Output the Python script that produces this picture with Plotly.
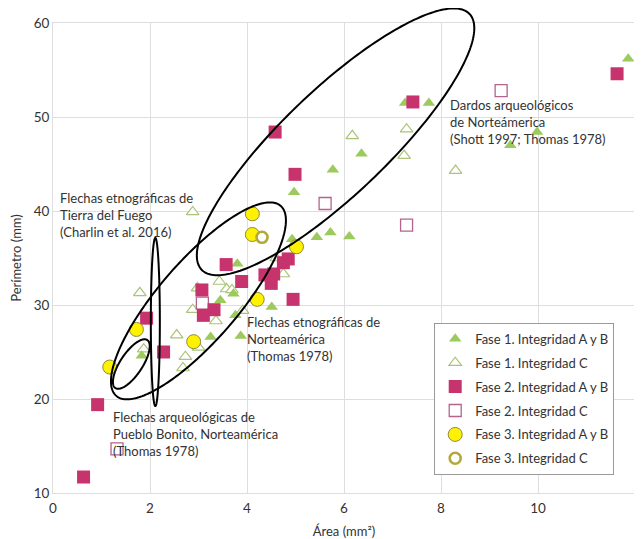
import numpy as np
import plotly.graph_objects as go

# ---------------- data ----------------
f1ab_x = [11.86, 7.26, 7.75, 6.36, 5.77, 5.44, 5.72, 6.11, 9.43, 9.98, 4.97, 4.93, 3.80, 3.45, 3.72, 3.76, 4.51, 3.25, 3.87, 1.83]
f1ab_y = [56.2, 51.5, 51.5, 46.1, 44.4, 37.2, 37.7, 37.3, 47.0, 48.4, 42.0, 37.0, 34.4, 30.5, 31.2, 28.9, 29.8, 26.6, 26.7, 24.6]

f1c_x = [2.88, 6.17, 7.29, 7.24, 8.30, 1.79, 1.87, 2.55, 2.73, 2.68, 2.88, 3.00, 3.36, 3.43, 3.58, 3.69, 3.91, 2.98, 4.60, 4.75]
f1c_y = [39.9, 48.0, 48.7, 45.9, 44.3, 31.3, 25.3, 26.8, 24.5, 23.3, 29.5, 25.5, 28.3, 32.5, 31.7, 31.6, 29.4, 31.8, 35.0, 33.3]

f2ab_x = [11.63, 7.42, 4.58, 4.99, 3.57, 3.89, 3.07, 3.10, 3.32, 4.37, 4.55, 4.50, 4.75, 4.85, 4.95, 1.93, 2.28, 0.92, 0.63]
f2ab_y = [54.6, 51.6, 48.4, 43.9, 34.3, 32.5, 31.6, 28.9, 29.5, 33.2, 33.3, 32.3, 34.5, 34.9, 30.6, 28.6, 25.0, 19.4, 11.7]

f2c_x = [9.24, 5.61, 7.29, 3.08, 1.32]
f2c_y = [52.8, 40.8, 38.5, 30.2, 14.7]

f3ab_x = [4.11, 4.11, 5.02, 4.21, 2.90, 1.72, 1.17]
f3ab_y = [39.7, 37.5, 36.2, 30.6, 26.1, 27.4, 23.4]

f3c_x = [4.31]
f3c_y = [37.2]

series_names = ["Fase 1. Integridad A y B", "Fase 1. Integridad C", "Fase 2. Integridad A y B",
                "Fase 2. Integridad C", "Fase 3. Integridad A y B", "Fase 3. Integridad C"]

x_ticks = [0, 2, 4, 6, 8, 10, 12]
y_ticks = [10, 20, 30, 40, 50, 60]
X_RANGE = [0, 12]
Y_RANGE = [10, 60]

# comparison ellipses in data units: centre, cos-vector, sin-vector
ellipse_dardos = ((5.826, 47.359), (-2.762, -13.606), (0.744, -4.038))
ellipse_norteamerica = ((2.999, 30.439), (-0.617, 2.766), (1.695, 10.106))
ellipse_fuego = ((2.11, 28.19), (0.093, 0.0), (0.0, 8.94))
ellipse_pueblo = ((1.615, 23.72), (0.329, 2.553), (0.189, -0.649))

label_fuego = "Flechas etnográficas de<br>Tierra del Fuego<br>(Charlin et al. 2016)"
label_norte = "Flechas etnográficas de<br>Norteamérica<br>(Thomas 1978)"
label_pueblo = "Flechas arqueológicas de<br>Pueblo Bonito, Norteamérica<br>(Thomas 1978)"
label_dardos = "Dardos arqueológicos<br>de Norteámerica<br>(Shott 1997; Thomas 1978)"

FONT = "Lato, 'Open Sans', sans-serif"
TXT = "#333333"

fig = go.Figure()

styles = [
    dict(symbol="triangle-up", size=11, color="#9dca5c", line=dict(width=0)),
    dict(symbol="triangle-up", size=11, color="white", line=dict(width=1.2, color="#abc47a")),
    dict(symbol="square", size=13, color="#c7336d", line=dict(width=0)),
    dict(symbol="square", size=12, color="white", line=dict(width=1.3, color="#b5628d")),
    dict(symbol="circle", size=14, color="#fff200", line=dict(width=1, color="#8f8a3a")),
    dict(symbol="circle", size=11, color="white", line=dict(width=2.6, color="#b3a83a")),
]
data_xy = [(f1ab_x, f1ab_y), (f1c_x, f1c_y), (f2ab_x, f2ab_y), (f2c_x, f2c_y), (f3ab_x, f3ab_y), (f3c_x, f3c_y)]
for i in [1, 0, 3, 2, 4, 5]:
    xs, ys = data_xy[i]
    fig.add_trace(go.Scatter(x=xs, y=ys, mode="markers", name=series_names[i], marker=styles[i],
                             legendrank=i + 1, legendgroup=str(i), cliponaxis=False))

# ellipse outlines (drawn in paper coordinates so they may extend past the plot frame)
t = np.linspace(0, 2 * np.pi, 241)
shapes = []
for (c, u, w) in [ellipse_dardos, ellipse_norteamerica, ellipse_fuego, ellipse_pueblo]:
    ex = c[0] + u[0] * np.cos(t) + w[0] * np.sin(t)
    ey = c[1] + u[1] * np.cos(t) + w[1] * np.sin(t)
    px = (ex - X_RANGE[0]) / (X_RANGE[1] - X_RANGE[0])
    py = (ey - Y_RANGE[0]) / (Y_RANGE[1] - Y_RANGE[0])
    path = "M " + " L ".join(f"{a:.5f},{b:.5f}" for a, b in zip(px, py)) + " Z"
    shapes.append(dict(type="path", path=path, xref="paper", yref="paper",
                       line=dict(color="black", width=2), layer="above"))

annots = [
    (0.11, 42.45, label_fuego),
    (3.96, 29.3, label_norte),
    (1.20, 19.2, label_pueblo),
    (8.14, 52.36, label_dardos),
]
annotations = [dict(x=ax, y=ay, xref="x", yref="y", text=tx, showarrow=False,
                    xanchor="left", yanchor="top", align="left",
                    font=dict(family=FONT, size=13, color=TXT)) for ax, ay, tx in annots]

axis_common = dict(showgrid=True, gridcolor="#dedede", gridwidth=1, zeroline=False,
                   showline=True, linecolor="#dedede", linewidth=1, mirror=True,
                   ticks="", automargin=False, tickfont=dict(family=FONT, size=13.5, color=TXT))

fig.update_layout(
    width=634, height=531,
    margin=dict(l=45, r=7, t=15, b=46),
    paper_bgcolor="white", plot_bgcolor="white",
    font=dict(family=FONT, color=TXT),
    shapes=shapes, annotations=annotations,
    xaxis=dict(range=X_RANGE, tickvals=x_ticks, ticklabelstandoff=3, **axis_common,
               title=dict(text="Área (mm²)", font=dict(family=FONT, size=13, color=TXT), standoff=12)),
    yaxis=dict(range=Y_RANGE, tickvals=y_ticks, **axis_common,
               title=dict(text="Perímetro (mm)", font=dict(family=FONT, size=13, color=TXT), standoff=13)),
    legend=dict(x=0.655, y=0.362, xanchor="left", yanchor="top",
                bgcolor="white", bordercolor="#9a9a9a", borderwidth=1,
                font=dict(family=FONT, size=13, color=TXT), tracegroupgap=4, itemwidth=30),
)

fig.write_html("out.html")
